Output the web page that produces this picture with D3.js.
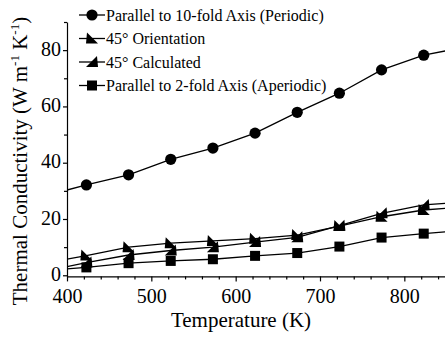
<!DOCTYPE html>
<html>
<head>
<meta charset="utf-8">
<script src="https://cdn.jsdelivr.net/npm/d3@7"></script>
<style>
  body { margin: 0; background: #fff; }
  svg { display: block; }
  svg text { font-family: "Liberation Serif", "DejaVu Serif", "Times New Roman", Times, serif; }
</style>
</head>
<body>
<script>
var W = 445, H = 339;

// temperatures (K) of the measured points
var temps = [423, 473, 523, 573, 623, 673, 723, 773, 823];

// thermal conductivity values (W m-1 K-1)
var periodic    = [32.1, 35.7, 41.2, 45.2, 50.5, 57.9, 64.7, 73.0, 78.2];
var orientation = [7.0, 10.0, 11.4, 12.2, 13.0, 14.3, 17.5, 20.8, 23.2];
var calculated  = [4.5, 7.2, 8.8, 10.0, 11.8, 13.5, 17.6, 22.0, 25.0];
var aperiodic   = [2.8, 4.3, 5.1, 5.7, 6.9, 7.9, 10.2, 13.4, 14.8];

// where each line meets the left / right edge of the plot
var edgeT = [400, 850];
var edgeStart = [30.3, 5.7, 3.1, 2.3];
var edgeEnd   = [79.8, 23.8, 25.6, 15.5];

var seriesNames = [
  "Parallel to 10-fold Axis (Periodic)",
  "45\u00B0 Orientation",
  "45\u00B0 Calculated",
  "Parallel to 2-fold Axis (Aperiodic)"
];
var seriesValues = [periodic, orientation, calculated, aperiodic];
var seriesShapes = ["circle", "orient", "calc", "square"];

var xMajor = [400, 500, 600, 700, 800];
var yMajor = [0, 20, 40, 60, 80];

var svg = d3.select("body").append("svg")
  .attr("width", W)
  .attr("height", H);

var x = d3.scaleLinear().domain([400, 850]).range([67, 446.5]);
var y = d3.scaleLinear().domain([-0.4, 90]).range([276.4, 22]);

// clip so lines stop at the axes
svg.append("clipPath").attr("id", "plotclip")
  .append("rect")
  .attr("x", x(400)).attr("y", y(90))
  .attr("width", x(850) - x(400)).attr("height", y(-0.4) - y(90));

// minor ticks
var xMinor = d3.range(400, 860, 20).filter(function(d) { return xMajor.indexOf(d) < 0; });
var yMinor = d3.range(10, 95, 20);

svg.append("g")
  .attr("transform", "translate(0," + y(-0.4) + ")")
  .call(d3.axisBottom(x).tickValues(xMinor).tickSize(3).tickFormat(""))
  .call(function(g) { g.select(".domain").remove(); });

svg.append("g")
  .attr("transform", "translate(" + x(400) + ",0)")
  .call(d3.axisLeft(y).tickValues(yMinor).tickSize(3).tickFormat(""))
  .call(function(g) { g.select(".domain").remove(); });

// major axes
var xAxis = svg.append("g")
  .attr("transform", "translate(0," + y(-0.4) + ")")
  .call(d3.axisBottom(x).tickValues(xMajor).tickSize(5).tickSizeOuter(0).tickPadding(7.5));

var yAxis = svg.append("g")
  .attr("transform", "translate(" + x(400) + ",0)")
  .call(d3.axisLeft(y).tickValues(yMajor).tickSize(4).tickSizeOuter(0).tickPadding(2));

svg.selectAll(".tick line, .domain")
  .attr("stroke", "#000")
  .attr("stroke-width", 1.2);

svg.selectAll("g").attr("font-family", null);

xAxis.selectAll("text")
  .attr("font-size", 20)
  .attr("fill", "#000");

yAxis.selectAll("text")
  .attr("font-size", 20)
  .attr("dy", "0.26em")
  .attr("fill", "#000");

// axis titles
svg.append("text")
  .attr("x", 241)
  .attr("y", 327)
  .attr("text-anchor", "middle")
  .attr("font-size", 21)
  .text("Temperature (K)");

var yTitle = svg.append("text")
  .attr("transform", "translate(27,161) rotate(-90)")
  .attr("text-anchor", "middle")
  .attr("font-size", 21);
yTitle.append("tspan").text("Thermal Conductivity (W m");
yTitle.append("tspan").attr("dy", -8).attr("font-size", 13).text("-1");
yTitle.append("tspan").attr("dy", 8).text(" K");
yTitle.append("tspan").attr("dy", -8).attr("font-size", 13).text("-1");
yTitle.append("tspan").attr("dy", 8).text(")");

// marker drawing
function drawMarker(g, shape, cx, cy) {
  if (shape === "circle") {
    g.append("circle").attr("cx", cx).attr("cy", cy).attr("r", 5.6).attr("fill", "#000");
  } else if (shape === "square") {
    g.append("rect").attr("x", cx - 5).attr("y", cy - 5)
      .attr("width", 10).attr("height", 10).attr("fill", "#000");
  } else if (shape === "orient") {
    g.append("path")
      .attr("d", "M" + (cx - 5) + "," + (cy - 6) + "L" + (cx + 6) + "," + (cy + 5) +
        "L" + (cx - 6) + "," + (cy + 5) + "Z")
      .attr("fill", "#000");
  } else {
    g.append("path")
      .attr("d", "M" + (cx + 5) + "," + (cy - 6) + "L" + (cx + 6) + "," + (cy + 5) +
        "L" + (cx - 6) + "," + (cy + 5) + "Z")
      .attr("fill", "#000");
  }
}

var line = d3.line()
  .x(function(d) { return x(d[0]); })
  .y(function(d) { return y(d[1]); });

seriesValues.forEach(function(vals, i) {
  var pts = [[edgeT[0], edgeStart[i]]];
  temps.forEach(function(t, j) { pts.push([t, vals[j]]); });
  pts.push([edgeT[1], edgeEnd[i]]);

  svg.append("path")
    .datum(pts)
    .attr("clip-path", "url(#plotclip)")
    .attr("d", line)
    .attr("fill", "none")
    .attr("stroke", "#000")
    .attr("stroke-width", 1.3);

  var g = svg.append("g");
  temps.forEach(function(t, j) {
    drawMarker(g, seriesShapes[i], x(t), y(vals[j]));
  });
});

// legend
var legendY = [15, 38.5, 62, 85.5];
seriesNames.forEach(function(name, i) {
  var ly = legendY[i];
  svg.append("line")
    .attr("x1", 79).attr("x2", 105)
    .attr("y1", ly).attr("y2", ly)
    .attr("stroke", "#000")
    .attr("stroke-width", 1.3);
  drawMarker(svg.append("g"), seriesShapes[i], 92, ly);
  svg.append("text")
    .attr("x", 106)
    .attr("y", ly + 5.5)
    .attr("font-size", 16)
    .text(name);
});
</script>
</body>
</html>
